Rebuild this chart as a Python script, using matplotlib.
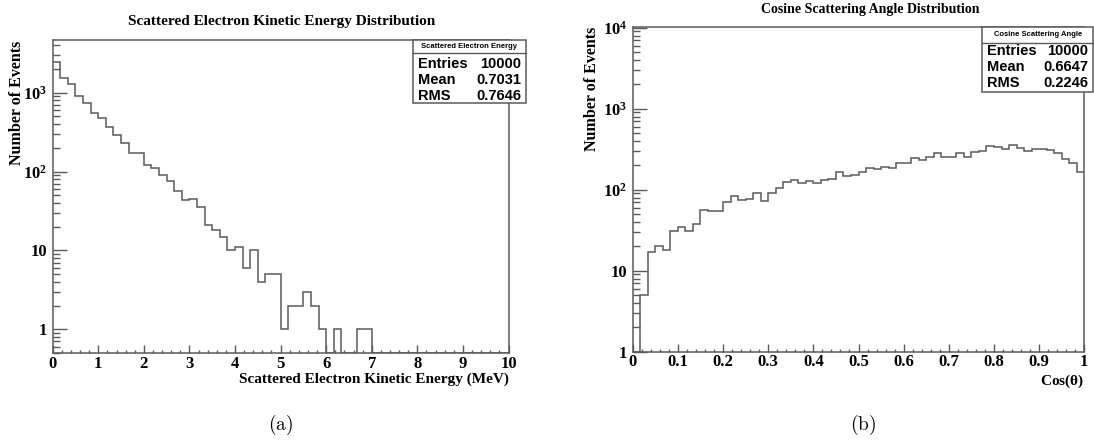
import matplotlib
matplotlib.use("Agg")
import matplotlib.pyplot as plt
import numpy as np
from matplotlib.lines import Line2D
from matplotlib.patches import Rectangle
from matplotlib.ticker import FuncFormatter, LogLocator, MultipleLocator, NullFormatter

# data (60 bins each)
energy_edges = np.linspace(0.0, 10.0, 61)
energy_counts = np.array([
    2450, 1517, 1285, 910, 749, 551, 477, 367, 294, 231,
    170, 170, 120, 112, 90, 76, 57, 44, 45, 36,
    21, 18, 15, 10, 11, 6, 10, 4, 5, 5,
    1, 2, 2, 3, 2, 1, 0, 1, 0, 0,
    1, 1, 0, 0, 0, 0, 0, 0, 0, 0,
    0, 0, 0, 0, 0, 0, 0, 0, 0, 0,
])
cos_edges = np.linspace(0.0, 1.0, 61)
cos_counts = np.array([
    1, 5, 17, 20, 18, 31, 35, 31, 38, 56,
    55, 55, 71, 84, 75, 77, 90, 73, 92, 104,
    126, 133, 122, 129, 120, 131, 134, 167, 149, 150,
    167, 184, 179, 192, 187, 212, 212, 244, 233, 251,
    281, 256, 256, 281, 251, 295, 303, 349, 334, 318,
    356, 325, 300, 315, 321, 309, 281, 239, 215, 164,
])

energy_stats = ["Scattered Electron Energy", "10000", "0.7031", "0.7646"]
cos_stats = ["Cosine Scattering Angle", "10000", "0.6647", "0.2246"]
stat_rows = ["Entries", "Mean", "RMS"]

W, H = 1094, 444
GRAY = "#5a5a5a"

plt.rcParams["font.family"] = ["Liberation Serif", "DejaVu Serif"]
plt.rcParams["font.weight"] = "bold"
plt.rcParams["axes.labelweight"] = "bold"
plt.rcParams["mathtext.fontset"] = "custom"
plt.rcParams["mathtext.rm"] = "Liberation Serif:bold"
plt.rcParams["mathtext.bf"] = "Liberation Serif:bold"
plt.rcParams["mathtext.it"] = "Liberation Serif:bold"


def fx(x):
    return x / W


def fy(y):
    return 1.0 - y / H


def log_label(v, _pos):
    if v <= 0:
        return ""
    e = int(round(np.log10(v)))
    if not np.isclose(v, 10.0 ** e):
        return ""
    if e == 0:
        return "1"
    if e == 1:
        return "10"
    return r"$\mathbf{10^{%d}}$" % e


def style_axes(ax, ymin, ymax, xmajor, xminor, xfmt):
    ax.set_yscale("log")
    ax.set_ylim(ymin, ymax)
    ax.yaxis.set_major_locator(LogLocator(base=10))
    ax.yaxis.set_minor_locator(LogLocator(base=10, subs=np.arange(2, 10)))
    ax.yaxis.set_major_formatter(FuncFormatter(log_label))
    ax.yaxis.set_minor_formatter(NullFormatter())
    ax.xaxis.set_major_locator(MultipleLocator(xmajor))
    ax.xaxis.set_minor_locator(MultipleLocator(xminor))
    ax.xaxis.set_major_formatter(FuncFormatter(xfmt))
    for side in ("top", "right", "bottom", "left"):
        ax.spines[side].set_color(GRAY)
        ax.spines[side].set_linewidth(1.1)
    ax.tick_params(axis="both", which="both", direction="in", colors=GRAY,
                   labelcolor="black", top=False, right=False, width=1.0)
    ax.tick_params(axis="y", which="major", length=10, pad=4, labelsize=12)
    ax.tick_params(axis="y", which="minor", length=5)
    ax.tick_params(axis="x", which="major", length=6, pad=2, labelsize=12)
    ax.tick_params(axis="x", which="minor", length=2.5)


def draw_hist(ax, counts, edges, ymin):
    shown = np.where(counts > 0, counts, ymin)
    ax.stairs(shown, edges, baseline=None, color=GRAY, lw=1.1)
    ax.set_xlim(edges[0], edges[-1])


def stat_box(fig, x0, y0, x1, y1, ysep, stats, head_size, row_size, row_ys):
    fig.add_artist(Rectangle((fx(x0), fy(y1)), fx(x1) - fx(x0), fy(y0) - fy(y1),
                             transform=fig.transFigure, facecolor="white",
                             edgecolor=GRAY, lw=1.1, zorder=5))
    fig.add_artist(Line2D([fx(x0), fx(x1)], [fy(ysep), fy(ysep)],
                          transform=fig.transFigure, color=GRAY, lw=1.0, zorder=6))
    fig.text(fx((x0 + x1) / 2), fy((y0 + ysep) / 2), stats[0], ha="center", va="center",
             family="Liberation Sans", weight="bold", size=head_size, zorder=7)
    for name, value, ry in zip(stat_rows, stats[1:], row_ys):
        fig.text(fx(x0 + 5), fy(ry), name, ha="left", va="center",
                 family="Liberation Sans", weight="bold", size=row_size, zorder=7)
        fig.text(fx(x1 - 5), fy(ry), value, ha="right", va="center",
                 family="Liberation Sans", weight="bold", size=row_size, zorder=7)


fig = plt.figure(figsize=(W / 100, H / 100), dpi=100)

# (a) kinetic energy
ax1 = fig.add_axes([fx(52.7), fy(353), fx(508.5) - fx(52.7), fy(40.5) - fy(353)])
draw_hist(ax1, energy_counts, energy_edges, 0.5)
style_axes(ax1, 0.5, 4600, 1, 0.2, lambda v, p: "%d" % round(v))
ax1.set_xlabel("Scattered Electron Kinetic Energy (MeV)", fontsize=11, ha="right", va="center")
ax1.xaxis.set_label_coords(1.0, -0.084)
ax1.set_ylabel("Number of Events", fontsize=11.5, ha="right", va="center")
ax1.yaxis.set_label_coords(-0.079, 1.0)
fig.text(fx(282), fy(22), "Scattered Electron Kinetic Energy Distribution",
         ha="center", va="center", fontsize=11)

# (b) cosine of scattering angle
ax2 = fig.add_axes([fx(632.7), fy(351.7), fx(1084.3) - fx(632.7), fy(26.7) - fy(351.7)])
draw_hist(ax2, cos_counts, cos_edges, 1.0)
style_axes(ax2, 1.0, 1.03e4, 0.1, 0.02, lambda v, p: "%g" % round(v, 2))
ax2.set_xlabel(r"Cos($\mathbf{\theta}$)", fontsize=11, ha="right", va="center")
ax2.xaxis.set_label_coords(1.0, -0.092)
ax2.set_ylabel("Number of Events", fontsize=11.5, ha="right", va="center")
ax2.yaxis.set_label_coords(-0.090, 1.0)
fig.text(fx(870), fy(10), "Cosine Scattering Angle Distribution",
         ha="center", va="center", fontsize=10)

stat_box(fig, 412.7, 40.5, 526, 102.7, 53.3, energy_stats, 5.5, 10.5, [64.3, 80, 95.7])
stat_box(fig, 982.3, 27, 1093, 91.7, 42.7, cos_stats, 5.5, 10.5, [50.7, 66.7, 82.7])

fig.text(fx(281), fy(425), r"$\mathrm{(a)}$", math_fontfamily="cm",
         ha="center", va="center", fontsize=14)
fig.text(fx(863), fy(425), r"$\mathrm{(b)}$", math_fontfamily="cm",
         ha="center", va="center", fontsize=14)

fig.savefig("out.png", dpi=100)
